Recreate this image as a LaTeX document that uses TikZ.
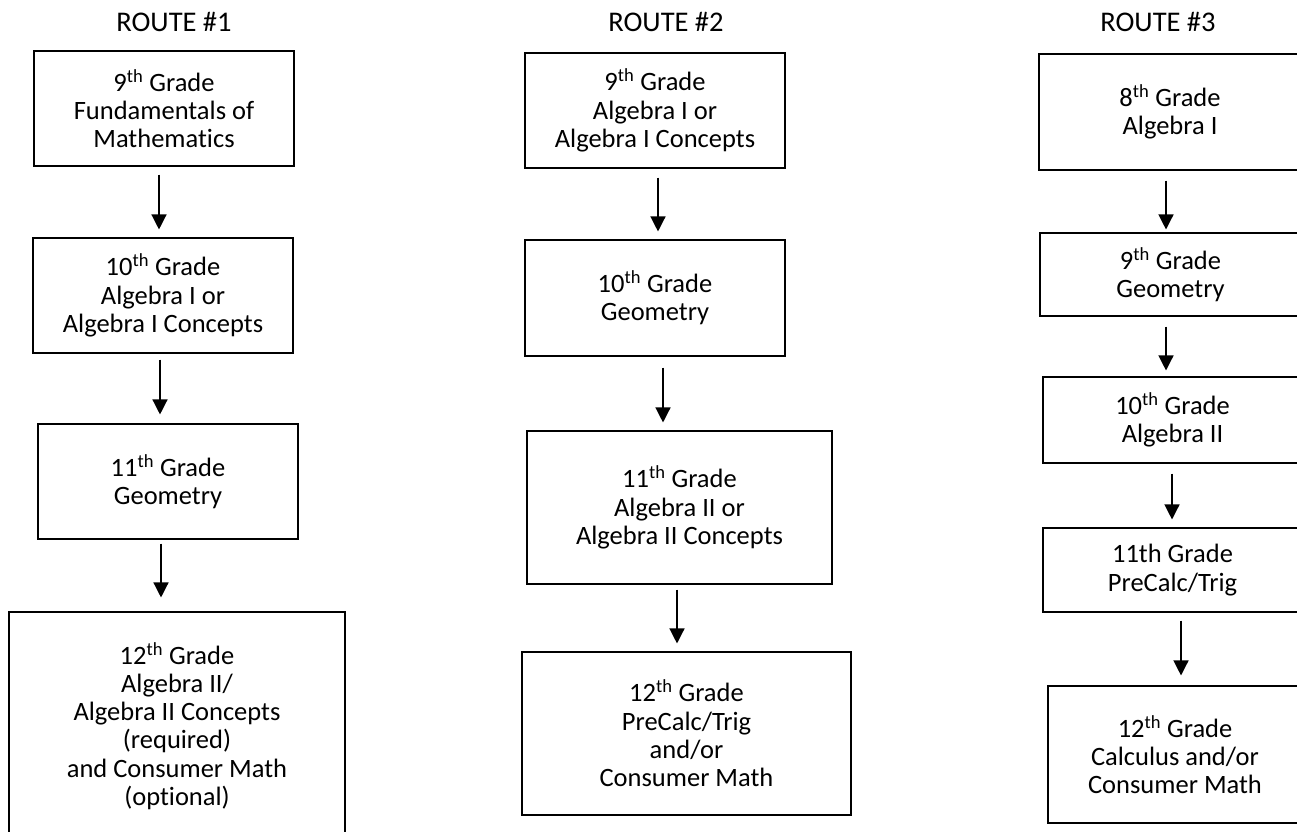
\documentclass[tikz,border=0pt]{standalone}
\usepackage{fontspec}
\setmainfont{Carlito}[Ligatures={NoCommon}]
\usetikzlibrary{arrows.meta}
\tikzset{
	box/.style={draw, line width=1.1pt, align=center, inner sep=0pt},
	arr/.style={line width=1.3pt, -{Triangle[width=15pt,length=15pt]}},
	title/.style={font=\fontsize{28.5}{30}\selectfont},
}

\begin{document}
\begin{tikzpicture}[x=1pt, y=-1pt, font=\fontsize{26.5}{28.3}\selectfont]
	%%%%% START %%%%%
	\clip (0,0) rectangle (1297,831);
	
	\node[title] (t1) at (174,21.5) {ROUTE \#1};
	\node[title] (t2) at (666,21.5) {ROUTE \#2};
	\node[title] (t3) at (1158,21.5) {ROUTE \#3};
	
	% route 1
	\node[box, minimum width=260pt, minimum height=115pt] (r1a) at (164,108.5) {9\textsuperscript{th} Grade\\Fundamentals of\\Mathematics};
	\node[box, minimum width=260pt, minimum height=115pt] (r1b) at (163,295.5) {10\textsuperscript{th} Grade\\Algebra I or\\Algebra I Concepts};
	\node[box, minimum width=260pt, minimum height=115pt] (r1c) at (168,481.5) {11\textsuperscript{th} Grade\\Geometry};
	\node[box, minimum width=336pt, minimum height=228pt] (r1d) at (177,726) {12\textsuperscript{th} Grade\\Algebra II/\\Algebra II Concepts\\(required)\\and Consumer Math\\(optional)};
	
	\draw[arr, shorten <=8pt, shorten >=8pt] ([xshift=-5pt]r1a.south) -- ([xshift=-5pt]r1a.south |- r1b.north);
	\draw[arr, shorten <=6pt, shorten >=9pt] ([xshift=-3pt]r1b.south) -- ([xshift=-3pt]r1b.south |- r1c.north);
	\draw[arr, shorten <=4pt, shorten >=14pt] ([xshift=-7pt]r1c.south) -- ([xshift=-7pt]r1c.south |- r1d.north);
	
	% route 2
	\node[box, minimum width=260pt, minimum height=115pt] (r2a) at (655,110.5) {9\textsuperscript{th} Grade\\Algebra I or\\Algebra I Concepts};
	\node[box, minimum width=260pt, minimum height=116pt] (r2b) at (655,298) {10\textsuperscript{th} Grade\\Geometry};
	\node[box, minimum width=305pt, minimum height=153pt] (r2c) at (679.5,507.5) {11\textsuperscript{th} Grade\\Algebra II or\\Algebra II Concepts};
	\node[box, minimum width=329pt, minimum height=163pt] (r2d) at (686.5,733.5) {12\textsuperscript{th} Grade\\PreCalc/Trig\\and/or\\Consumer Math};
	
	\draw[arr, shorten <=9pt, shorten >=8pt] ([xshift=3pt]r2a.south) -- ([xshift=3pt]r2a.south |- r2b.north);
	\draw[arr, shorten <=11pt, shorten >=8pt] ([xshift=8pt]r2b.south) -- ([xshift=8pt]r2b.south |- r2c.north);
	\draw[arr, shorten <=5pt, shorten >=8pt] ([xshift=-2.5pt]r2c.south) -- ([xshift=-2.5pt]r2c.south |- r2d.north);
	
	% route 3 (cut at the right border)
	\node[box, minimum width=262pt, minimum height=116pt] (r3a) at (1170,112) {8\textsuperscript{th} Grade\\Algebra I};
	\node[box, minimum width=261pt, minimum height=83pt] (r3b) at (1170.5,274.5) {9\textsuperscript{th} Grade\\Geometry};
	\node[box, minimum width=259pt, minimum height=86pt] (r3c) at (1172.5,420) {10\textsuperscript{th} Grade\\Algebra II};
	\node[box, minimum width=259pt, minimum height=84pt] (r3d) at (1172.5,570) {11th Grade\\PreCalc/Trig};
	\node[box, minimum width=254pt, minimum height=137pt] (r3e) at (1175,754.5) {12\textsuperscript{th} Grade\\Calculus and/or\\Consumer Math};
	
	\draw[arr, shorten <=10pt, shorten >=3pt] ([xshift=-4pt]r3a.south) -- ([xshift=-4pt]r3a.south |- r3b.north);
	\draw[arr, shorten <=10pt, shorten >=6pt] ([xshift=-4.5pt]r3b.south) -- ([xshift=-4.5pt]r3b.south |- r3c.north);
	\draw[arr, shorten <=10pt, shorten >=8pt] ([xshift=-0.5pt]r3c.south) -- ([xshift=-0.5pt]r3c.south |- r3d.north);
	\draw[arr, shorten <=8pt, shorten >=10pt] ([xshift=8.5pt]r3d.south) -- ([xshift=8.5pt]r3d.south |- r3e.north);
	
	%%%%% END %%%%%
\end{tikzpicture}
\end{document}
